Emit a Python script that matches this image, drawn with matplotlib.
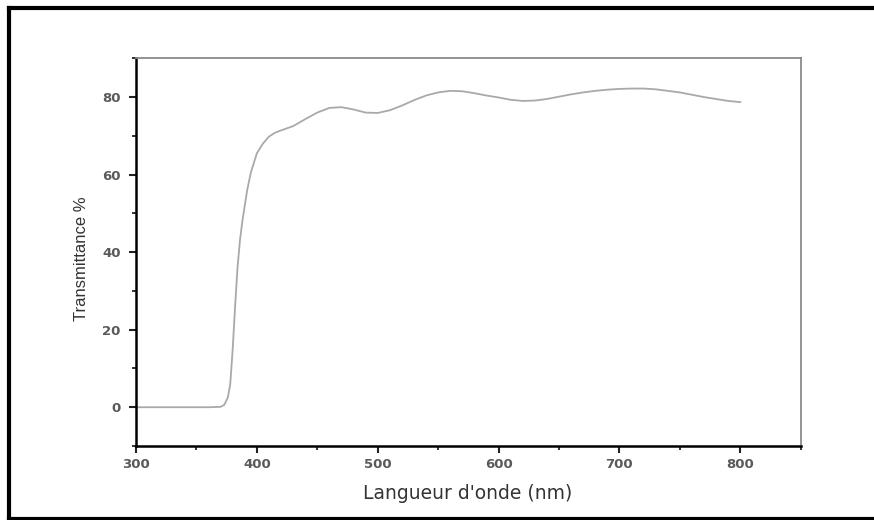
import matplotlib
matplotlib.use("Agg")
import matplotlib.pyplot as plt
from matplotlib.lines import Line2D
from matplotlib.ticker import MultipleLocator

wavelength = [300, 320, 340, 360, 370, 373, 376, 378, 380, 382, 384, 386, 388,
              390, 392, 395, 400, 405, 410, 415, 420, 430, 440, 450, 460, 470,
              480, 490, 500, 510, 520, 530, 540, 550, 560, 570, 580, 590, 600,
              610, 620, 630, 640, 650, 660, 670, 680, 690, 700, 710, 720, 730,
              740, 750, 760, 770, 780, 790, 800]
transmittance = [0, 0, 0, 0, 0.1, 0.6, 2.5, 6, 15, 26, 36, 43, 48,
                 52, 56, 60.5, 65.5, 68, 69.8, 70.8, 71.4, 72.5, 74.3, 76, 77.2, 77.4,
                 76.8, 76.0, 75.9, 76.6, 77.8, 79.2, 80.4, 81.2, 81.6, 81.5, 81.0, 80.4, 79.9,
                 79.3, 79.0, 79.1, 79.5, 80.1, 80.7, 81.2, 81.6, 81.9, 82.1, 82.2, 82.2, 82.0,
                 81.6, 81.2, 80.6, 80.0, 79.5, 79.0, 78.7]

x_label = "Langueur d'onde (nm)"
y_label = "Transmittance %"

plt.rcParams['font.family'] = ['DejaVu Sans']

W, H = 874, 520
fig = plt.figure(figsize=(W / 100, H / 100), dpi=100)
ax = fig.add_axes([136 / W, 1 - 446 / H, (800.7 - 136) / W, (446 - 58.3) / H])

ax.plot(wavelength, transmittance, color='#a9a9a9', lw=1.3)

ax.set_xlim(300, 850)
ax.set_ylim(-10, 90)
ax.xaxis.set_major_locator(MultipleLocator(100))
ax.xaxis.set_minor_locator(MultipleLocator(50))
ax.yaxis.set_major_locator(MultipleLocator(20))
ax.yaxis.set_minor_locator(MultipleLocator(10))

for s in ['left', 'bottom']:
    ax.spines[s].set_linewidth(1.8)
    ax.spines[s].set_color('black')
for s in ['top', 'right']:
    ax.spines[s].set_linewidth(1.3)
    ax.spines[s].set_color('#8a8a8a')

ax.tick_params(which='major', direction='out', length=5, width=1.5, color='#222222',
               labelsize=9.5, labelcolor='#5a5a5a', top=False, right=False)
ax.tick_params(which='minor', direction='out', length=3, width=1.3, color='#222222',
               top=False, right=False)
ax.tick_params(axis='x', which='major', pad=4)
ax.tick_params(axis='y', which='major', pad=6)
for lab in ax.get_xticklabels() + ax.get_yticklabels():
    lab.set_fontweight('bold')

ax.set_xlabel(x_label, fontsize=13.5, color='#333333')
ax.xaxis.set_label_coords(0.4995, -0.098)
ax.set_ylabel(y_label, fontsize=12, color='#333333',
              family=['Liberation Sans Narrow', 'Liberation Sans', 'DejaVu Sans'])
ax.yaxis.set_label_coords(-0.071, 0.482)

# outer black frame (left, top, bottom; right side cut off)
lw = 3.0
fig.add_artist(Line2D([9 / W, 9 / W], [1 - 8 / H, 1 - 518.5 / H], transform=fig.transFigure,
                      color='black', lw=lw, solid_capstyle='projecting'))
fig.add_artist(Line2D([9 / W, 1.01], [1 - 8 / H, 1 - 8 / H], transform=fig.transFigure,
                      color='black', lw=lw, solid_capstyle='projecting'))
fig.add_artist(Line2D([9 / W, 1.01], [1 - 518.5 / H, 1 - 518.5 / H], transform=fig.transFigure,
                      color='black', lw=lw, solid_capstyle='projecting'))

fig.savefig('out.png', dpi=100)
